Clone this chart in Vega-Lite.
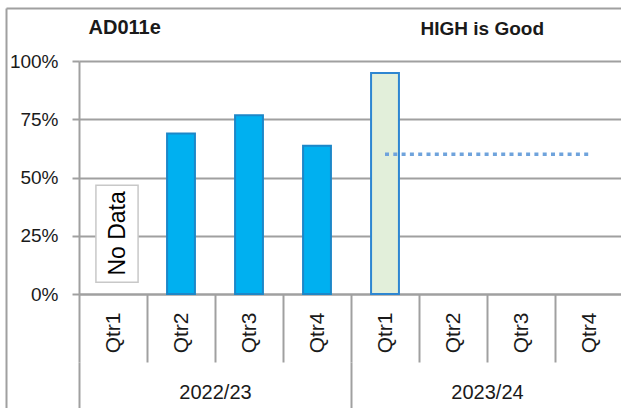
{
  "$schema": "https://vega.github.io/schema/vega-lite/v6.json",
  "width": 544,
  "height": 233,
  "autosize": {"type": "none"},
  "padding": {"left": 79, "top": 61, "right": 0, "bottom": 114},
  "background": "white",
  "config": {"view": {"stroke": null}, "font": "Liberation Sans"},
  "data": {
    "values": [
      {"period": "2022/23 Qtr1", "year": "2022/23", "quarter": "Qtr1", "value": null, "target": null, "note": "No Data"},
      {"period": "2022/23 Qtr2", "year": "2022/23", "quarter": "Qtr2", "value": 0.689, "target": null, "note": null},
      {"period": "2022/23 Qtr3", "year": "2022/23", "quarter": "Qtr3", "value": 0.767, "target": null, "note": null},
      {"period": "2022/23 Qtr4", "year": "2022/23", "quarter": "Qtr4", "value": 0.636, "target": null, "note": null},
      {"period": "2023/24 Qtr1", "year": "2023/24", "quarter": "Qtr1", "value": 0.949, "target": 0.6, "note": null},
      {"period": "2023/24 Qtr2", "year": "2023/24", "quarter": "Qtr2", "value": null, "target": 0.6, "note": null},
      {"period": "2023/24 Qtr3", "year": "2023/24", "quarter": "Qtr3", "value": null, "target": 0.6, "note": null},
      {"period": "2023/24 Qtr4", "year": "2023/24", "quarter": "Qtr4", "value": null, "target": 0.6, "note": null}
    ]
  },
  "layer": [
    {
      "encoding": {
        "x": {
          "field": "period",
          "type": "nominal",
          "scale": {
            "type": "band",
            "domain": ["2022/23 Qtr1", "2022/23 Qtr2", "2022/23 Qtr3", "2022/23 Qtr4", "2023/24 Qtr1", "2023/24 Qtr2", "2023/24 Qtr3", "2023/24 Qtr4"],
            "paddingInner": 0,
            "paddingOuter": 0
          },
          "axis": {
            "orient": "bottom",
            "title": null,
            "labelExpr": "split(datum.label, ' ')[1]",
            "labelAngle": 270,
            "labelAlign": "right",
            "labelBaseline": "middle",
            "labelPadding": -50,
            "labelFontSize": 21,
            "labelColor": "#1a1a1a",
            "labelFont": "Liberation Sans",
            "tickBand": "extent",
            "tickSize": 68,
            "tickColor": "#a0a0a0",
            "tickWidth": 2,
            "domainColor": "#a0a0a0",
            "domainWidth": 2,
            "grid": false
          }
        }
      },
      "layer": [
        {
          "mark": {"type": "bar", "width": {"band": 0.41}, "strokeWidth": 2},
          "encoding": {
            "y": {
              "field": "value",
              "type": "quantitative",
              "scale": {"domain": [0, 1]},
              "axis": {
                "orient": "left",
                "values": [0, 0.25, 0.5, 0.75, 1],
                "format": ".0%",
                "grid": true,
                "gridColor": "#a0a0a0",
                "gridWidth": 2,
                "domainColor": "#a0a0a0",
                "domainWidth": 2,
                "tickColor": "#a0a0a0",
                "tickWidth": 2,
                "tickSize": 7,
                "labelPadding": 14,
                "labelFontSize": 19,
                "labelColor": "#1a1a1a",
                "labelFont": "Liberation Sans",
                "title": "HIGH is Good",
                "titleAngle": 0,
                "titleX": 341,
                "titleY": -33,
                "titleAlign": "left",
                "titleBaseline": "middle",
                "titleFontSize": 19,
                "titleFontWeight": "bold",
                "titleColor": "#1a1a1a",
                "titleFont": "Liberation Sans"
              }
            },
            "fill": {"field": "year", "type": "nominal", "scale": {"domain": ["2022/23", "2023/24"], "range": ["#00B0F0", "#E2EFDA"]}, "legend": null},
            "stroke": {"field": "year", "type": "nominal", "scale": {"domain": ["2022/23", "2023/24"], "range": ["#1C87C8", "#2E86D1"]}, "legend": null}
          }
        },
        {
          "transform": [{"filter": "datum.note != null"}],
          "mark": {"type": "bar", "fill": "white", "stroke": "#c8c8c8", "strokeWidth": 1.5, "width": {"band": 0.62}, "xOffset": 4},
          "encoding": {"y": {"datum": 0.05, "type": "quantitative"}, "y2": {"datum": 0.467}}
        },
        {
          "transform": [{"filter": "datum.note != null"}],
          "mark": {"type": "text", "angle": 270, "fontSize": 23, "font": "Liberation Sans", "color": "#000000", "xOffset": 5, "align": "center", "baseline": "middle"},
          "encoding": {"text": {"field": "note", "type": "nominal"}, "y": {"datum": 0.26, "type": "quantitative"}}
        },
        {
          "transform": [{"filter": "datum.target != null"}],
          "mark": {"type": "line", "color": "#6FA3DC", "strokeWidth": 3.5, "strokeDash": [4, 4.3]},
          "encoding": {"y": {"field": "target", "type": "quantitative"}}
        }
      ]
    },
    {
      "mark": {"type": "bar", "opacity": 0},
      "encoding": {
        "x": {
          "field": "year",
          "type": "nominal",
          "scale": {"type": "band", "paddingInner": 0, "paddingOuter": 0},
          "axis": {
            "orient": "bottom",
            "offset": 68,
            "title": null,
            "labelAngle": 0,
            "labelAlign": "center",
            "labelBaseline": "middle",
            "labelPadding": -20,
            "labelFontSize": 20,
            "labelColor": "#1a1a1a",
            "labelFont": "Liberation Sans",
            "tickBand": "extent",
            "tickSize": 50,
            "tickColor": "#a0a0a0",
            "tickWidth": 2,
            "domain": false,
            "grid": false
          }
        }
      }
    },
    {
      "mark": {"type": "point", "opacity": 0},
      "encoding": {
        "x": {
          "field": "target",
          "type": "quantitative",
          "scale": {"domain": [0, 1], "range": [-73, 560]},
          "axis": {
            "orient": "top",
            "offset": 53,
            "ticks": false,
            "labels": false,
            "grid": false,
            "domainColor": "#a0a0a0",
            "domainWidth": 2,
            "title": "AD011e",
            "titleX": 9,
            "titleY": 19,
            "titleAngle": 0,
            "titleAlign": "left",
            "titleBaseline": "middle",
            "titleFontSize": 20,
            "titleFontWeight": "bold",
            "titleColor": "#1a1a1a",
            "titleFont": "Liberation Sans"
          }
        },
        "y": {
          "field": "target",
          "type": "quantitative",
          "scale": {"domain": [0, 1], "range": [347, -53]},
          "axis": {
            "orient": "left",
            "offset": 73,
            "ticks": false,
            "labels": false,
            "grid": false,
            "domainColor": "#a0a0a0",
            "domainWidth": 2,
            "title": null
          }
        }
      }
    }
  ],
  "resolve": {
    "scale": {"x": "independent", "y": "independent"},
    "axis": {"x": "independent", "y": "independent"}
  }
}
